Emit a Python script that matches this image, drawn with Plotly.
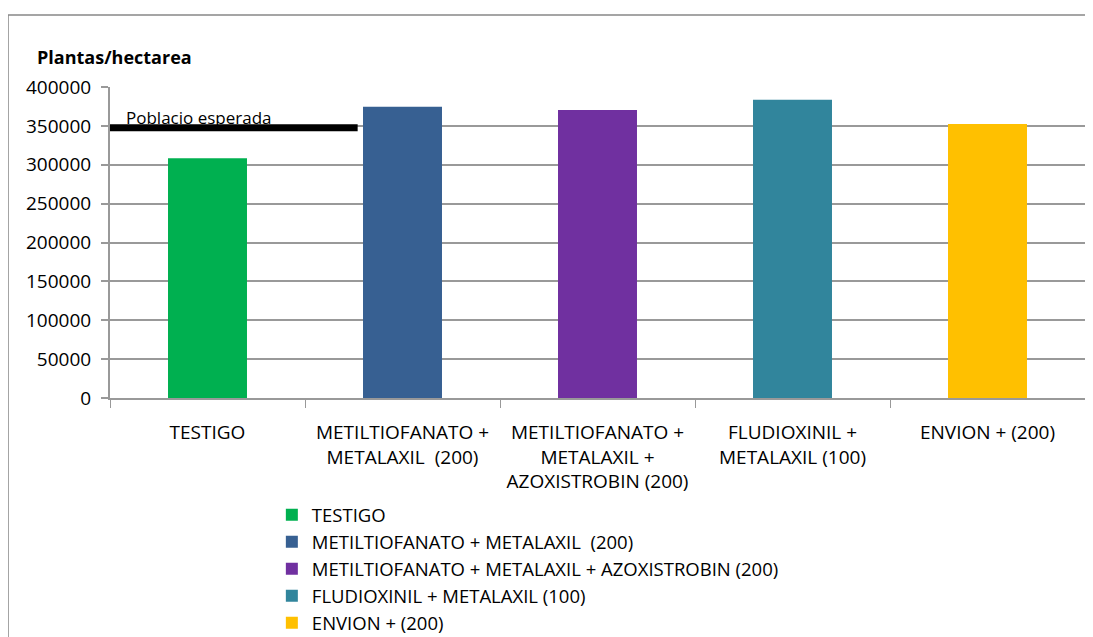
import plotly.graph_objects as go

categories = ["TESTIGO", "METILTIOFANATO + METALAXIL  (200)",
              "METILTIOFANATO + METALAXIL + AZOXISTROBIN (200)",
              "FLUDIOXINIL + METALAXIL (100)", "ENVION + (200)"]
tick_labels = ["TESTIGO", "METILTIOFANATO +<br>METALAXIL  (200)",
               "METILTIOFANATO +<br>METALAXIL +<br>AZOXISTROBIN (200)",
               "FLUDIOXINIL +<br>METALAXIL (100)", "ENVION + (200)"]
values = [308500, 374500, 370500, 383500, 352500]
colors = ["#00B050", "#376092", "#7030A0", "#31859C", "#FFC000"]
expected_population = 347500
expected_label = "Poblacio esperada"
y_ticks = [0, 50000, 100000, 150000, 200000, 250000, 300000, 350000, 400000]

FONT = "Open Sans"

fig = go.Figure()
for i, (c, v, col) in enumerate(zip(categories, values, colors)):
    fig.add_trace(go.Bar(x=[i], y=[v], name=c, marker=dict(color=col, line=dict(width=0)),
                         width=0.405))

fig.update_layout(
    width=1093, height=629,
    margin=dict(l=102, r=16, t=79, b=239, autoexpand=False),
    paper_bgcolor="white", plot_bgcolor="white",
    barmode="relative",
    showlegend=True,
    legend=dict(x=0.166, y=0.224, xref="paper", yref="container", xanchor="left", yanchor="top",
                font=dict(family=FONT, size=18.5, color="black"),
                tracegroupgap=0, itemwidth=30, bgcolor="rgba(0,0,0,0)"),
    font=dict(family=FONT, size=19, color="black"),
)
fig.update_xaxes(
    range=[-0.5, 4.5], tickmode="array", tickvals=list(range(5)), ticktext=tick_labels,
    showline=True, linecolor="#999999", linewidth=2, showgrid=False, automargin=False,
    ticks="", tickfont=dict(family=FONT, size=19, color="black"), ticklabelstandoff=16,
)
fig.update_xaxes(minor=dict(tickvals=[i - 0.5 for i in range(6)], ticks="outside",
                            ticklen=8, tickcolor="#999999", tickwidth=1, showgrid=False))
fig.update_yaxes(
    range=[0, 400000], tickmode="array", tickvals=y_ticks,
    ticktext=[str(t) for t in y_ticks], automargin=False,
    showline=True, linecolor="#999999", linewidth=2,
    showgrid=True, gridcolor="#999999", gridwidth=2,
    ticks="outside", ticklen=7, tickcolor="#999999", tickwidth=2,
    tickfont=dict(family=FONT, size=19, color="black"), zeroline=False,
    ticklabelstandoff=6,
)

# expected population line
fig.add_shape(type="line", xref="x", yref="y", x0=-0.51, x1=0.77,
              y0=expected_population, y1=expected_population,
              line=dict(color="black", width=7))
fig.add_annotation(xref="x", yref="y", x=-0.43, y=expected_population, yshift=-3,
                   text=expected_label, showarrow=False, xanchor="left", yanchor="bottom",
                   font=dict(family=FONT, size=17, color="black"))
# y title
fig.add_annotation(xref="paper", yref="paper", x=-0.077, y=1.052, xanchor="left", yanchor="bottom",
                   text="<b>Plantas/hectarea</b>", showarrow=False,
                   font=dict(family=FONT, size=18, color="black"))
# outer frame
fig.add_shape(type="rect", xref="paper", yref="paper", x0=-0.1046, x1=1.2, y0=-1.0, y1=1.2315,
              line=dict(color="#888888", width=1.5), layer="below")

fig.write_html("out.html")
